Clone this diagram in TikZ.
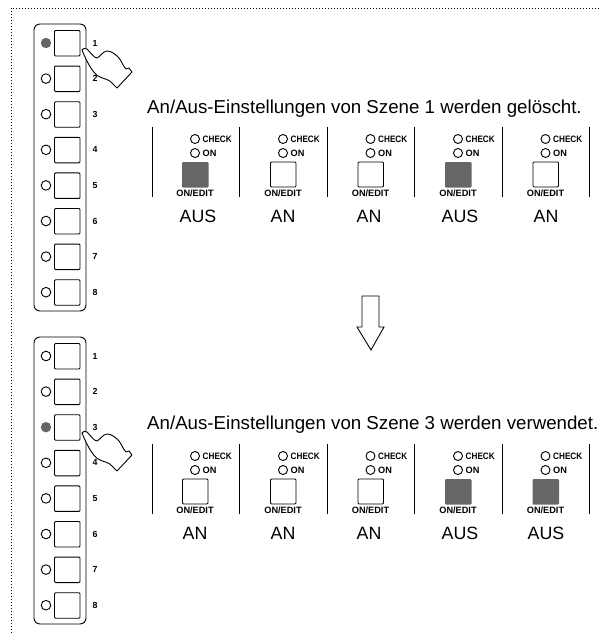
\documentclass[tikz,border=0pt]{standalone}
\usepackage{fontspec}
\setmainfont{Liberation Sans}
\newfontfamily\condbold[FakeStretch=0.88]{Liberation Sans Bold}
\tikzset{
 x=1pt,y=-1pt,
 ink/.style={draw=black,line width=0.9pt},
 keybox/.style={ink,rounded corners=1pt,fill=white},
 title/.style={inner sep=0pt,anchor=base west,font=\fontsize{18.7}{20}\selectfont},
 big/.style={inner sep=0pt,font=\fontsize{17.8}{20}\selectfont},
 small/.style={inner sep=0pt,font=\fontsize{9.2}{10}\selectfont\bfseries},
 checklabel/.style={inner sep=0pt,font=\fontsize{9.3}{10}\selectfont\condbold},
 tiny/.style={inner sep=0pt,font=\fontsize{8.8}{9}\selectfont\bfseries},
}
\newcommand{\panel}[2]{% top y, lit index
 \draw[ink,rounded corners=6pt] (34,#1) rectangle (86,#1+287);
 \foreach \i in {1,...,8}{
  \pgfmathsetmacro{\yy}{#1+6.5+(\i-1)*35.6}
  \draw[keybox] (54.5,\yy) rectangle (80,\yy+25.5);
  \ifnum\i=#2
   \fill[black!60] (46,\yy+12.5) circle (5.2);
  \else
   \draw[ink] (46,\yy+12.5) circle (4.8);
  \fi
  \node[tiny] (n#1x\i) at (95,\yy+12.5) {\i};
 }
}
\newcommand{\hand}[1]{%
 \draw[ink,fill=white,line join=round,shift={(0,#1)}] (82,50)
  .. controls (83,48) and (85,48) .. (87,49)
  .. controls (90,52) and (94,58) .. (97,58)
  .. controls (100,57) and (103,51) .. (107,51)
  .. controls (112,51) and (116,55) .. (119,58)
  .. controls (122,62) and (123,66) .. (126,69)
  -- (129,68) -- (132,72) -- (117,88) -- (112,83)
  .. controls (109,79) and (103,79) .. (98,76)
  .. controls (92,72) and (86,60) .. (82,50) -- cycle;
}
% #1 column x, #2 top y, #3 on?, #4 label, #5 label x
\newcommand{\col}[5]{%
 \draw[ink] (#1,#2+12) circle (4.5);
 \draw[ink] (#1,#2+26) circle (4.5);
 \node[checklabel,anchor=west] at (#1+7.5,#2+12) {CHECK};
 \node[small,anchor=west] at (#1+7.5,#2+26) {ON};
 \ifnum#3=1
  \fill[black!60,rounded corners=1pt] (#1-13,#2+35) rectangle (#1+13.5,#2+60.5);
 \else
  \draw[keybox] (#1-12.5,#2+35) rectangle (#1+13,#2+60);
 \fi
 \node[small] at (#1,#2+66.2) {ON/EDIT};
 \node[big] at (#5,#2+89) {#4};
}
\begin{document}
\begin{tikzpicture}
\useasboundingbox (0,0) rectangle (605,633);
\draw[black,line width=0.9pt,dash pattern=on 1.4pt off 1.6pt] (11,633) -- (11,8) -- (600,8);
\panel{24}{1}
\panel{337}{3}
\hand{0}
\hand{383}
\node[title] (t1) at (147,113) {An/Aus-Einstellungen von Szene 1 werden gelöscht.};
\node[title] (t2) at (147,429.5) {An/Aus-Einstellungen von Szene 3 werden verwendet.};
\foreach \x in {152,239.5,327,414.5,502,589.5}{\draw[ink] (\x,127) -- (\x,197);}
\foreach \x in {152,239.5,327,414.5,502,589.5}{\draw[ink] (\x,444) -- (\x,514);}
\col{195}{127}{1}{AUS}{198}
\col{283}{127}{0}{AN}{283}
\col{370.5}{127}{0}{AN}{369}
\col{458}{127}{1}{AUS}{460}
\col{545.5}{127}{0}{AN}{546}
\col{195}{444}{0}{AN}{195}
\col{283}{444}{0}{AN}{283}
\col{370.5}{444}{0}{AN}{369}
\col{458}{444}{1}{AUS}{460}
\col{545.5}{444}{1}{AUS}{546}
\draw[ink,line join=miter] (362,296) -- (379,296) -- (379,327) -- (384,327) -- (371,350) -- (357,327) -- (362,327) -- cycle;
\end{tikzpicture}
\end{document}
